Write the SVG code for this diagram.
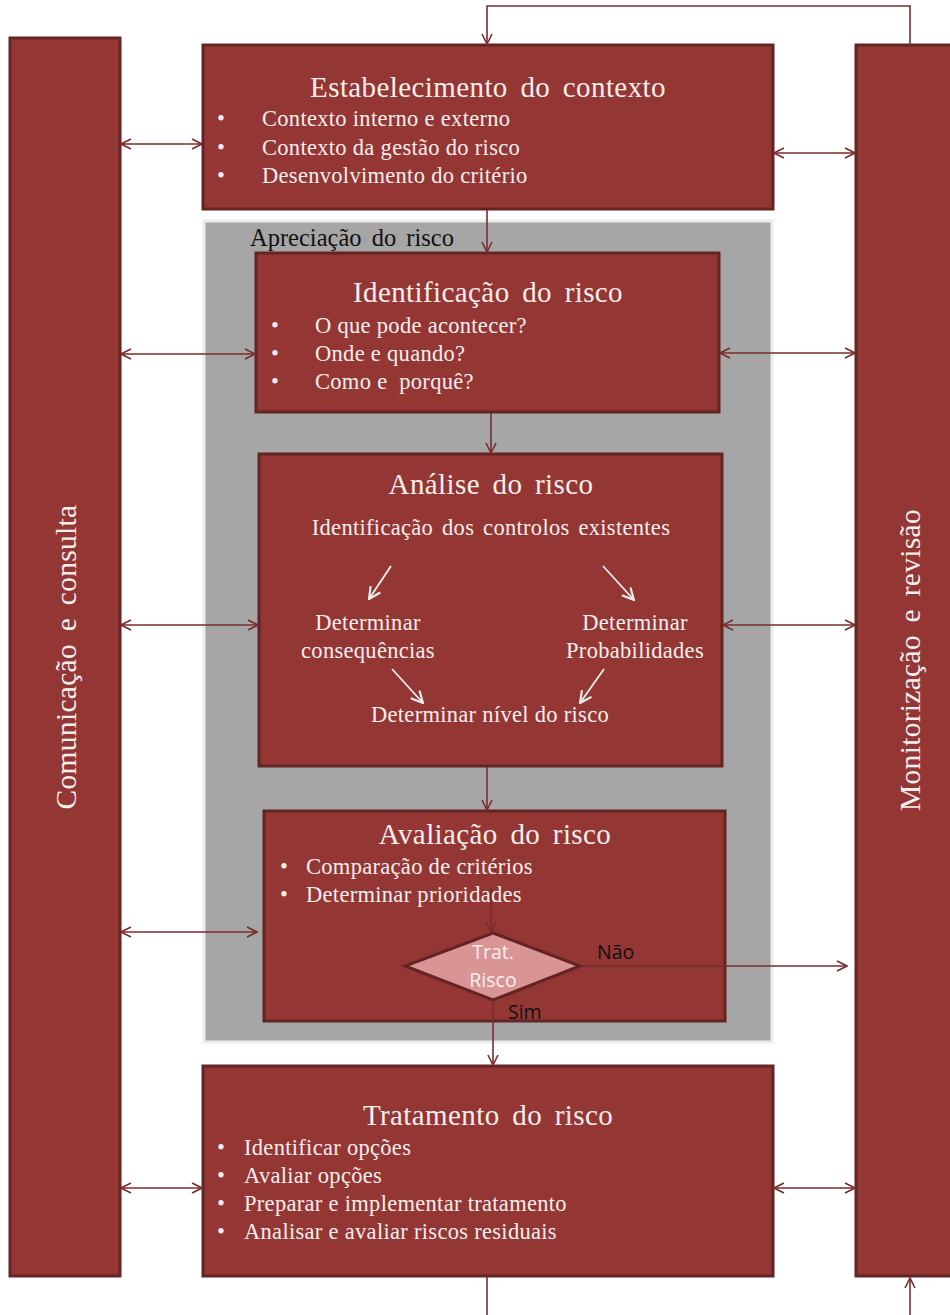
<svg xmlns="http://www.w3.org/2000/svg" width="950" height="1315" viewBox="0 0 950 1315">
  <defs>
    <style>
      .box { fill: #943634; stroke: #632423; stroke-width: 3; }
      .title { font-family: "Liberation Serif", serif; font-size: 29px; fill: #f4eeee; word-spacing: 5px; letter-spacing: 0.4px; }
      .item { font-family: "Liberation Serif", serif; font-size: 22.5px; fill: #f4eeee; letter-spacing: 0.3px; }
      .side { font-family: "Liberation Serif", serif; font-size: 29.5px; fill: #f4eeee; word-spacing: 5px; letter-spacing: 0.3px; }
      .label { font-family: "Liberation Serif", serif; font-size: 24.5px; fill: #111; word-spacing: 4px; }
      .sans { font-family: "Open Sans", "Liberation Sans", sans-serif; font-size: 19.5px; }
      .conn { fill: none; stroke: #7a2c2c; stroke-width: 1.6; }
      .inner { fill: none; stroke: #f4eeee; stroke-width: 1.8; }
    </style>
    <marker id="arr" viewBox="0 0 12 12" refX="11" refY="6" markerWidth="12" markerHeight="12" markerUnits="userSpaceOnUse" orient="auto-start-reverse">
      <path d="M1,1 L11,6 L1,11" fill="none" stroke="#7a2c2c" stroke-width="1.6"/>
    </marker>
    <marker id="warr" viewBox="0 0 12 12" refX="11" refY="6" markerWidth="14" markerHeight="14" markerUnits="userSpaceOnUse" orient="auto">
      <path d="M1,1 L11,6 L1,11" fill="none" stroke="#f4eeee" stroke-width="1.8"/>
    </marker>
  </defs>

  <rect width="950" height="1315" fill="#ffffff"/>

  <!-- risk assessment frame -->
  <g id="apreciacao">
    <rect x="204" y="221" width="568" height="821" fill="#a6a6a6" stroke="#ececec" stroke-width="3"/>
    <text class="label" x="250" y="246">Apreciação do risco</text>
  </g>

  <!-- side columns -->
  <g id="comunicacao">
    <rect class="box" x="10" y="38" width="110" height="1238"/>
    <text class="side" transform="translate(76,657) rotate(-90)" text-anchor="middle">Comunicação e consulta</text>
  </g>
  <g id="monitorizacao">
    <rect class="box" x="856" y="45" width="110" height="1231"/>
    <text class="side" transform="translate(920,660) rotate(-90)" text-anchor="middle">Monitorização e revisão</text>
  </g>

  <g id="contexto">
    <rect class="box" x="203" y="45" width="570" height="164"/>
    <text class="title" x="488" y="97" text-anchor="middle">Estabelecimento do contexto</text>
    <g class="item">
      <text x="217" y="126">•</text><text x="262" y="126">Contexto interno e externo</text>
      <text x="217" y="155">•</text><text x="262" y="155">Contexto da gestão do risco</text>
      <text x="217" y="183">•</text><text x="262" y="183">Desenvolvimento do critério</text>
    </g>
  </g>

  <g id="identificacao">
    <rect class="box" x="256" y="253" width="463" height="159"/>
    <text class="title" x="488" y="302" text-anchor="middle">Identificação do risco</text>
    <g class="item">
      <text x="271" y="333">•</text><text x="315" y="333">O que pode acontecer?</text>
      <text x="271" y="361">•</text><text x="315" y="361">Onde e quando?</text>
      <text x="271" y="389">•</text><text x="315" y="389">Como e&#160; porquê?</text>
    </g>
  </g>

  <g id="analise">
    <rect class="box" x="259" y="454" width="463" height="312"/>
    <text class="title" x="491" y="494" text-anchor="middle">Análise do risco</text>
    <g class="item" text-anchor="middle">
      <text x="491" y="535" word-spacing="3">Identificação dos controlos existentes</text>
      <text x="368" y="630">Determinar</text>
      <text x="368" y="658">consequências</text>
      <text x="635" y="630">Determinar</text>
      <text x="635" y="658">Probabilidades</text>
      <text x="490" y="722">Determinar nível do risco</text>
    </g>
    <line class="inner" x1="391" y1="566" x2="369" y2="599" marker-end="url(#warr)"/>
    <line class="inner" x1="603" y1="566" x2="634" y2="600" marker-end="url(#warr)"/>
    <line class="inner" x1="392" y1="669" x2="423" y2="703" marker-end="url(#warr)"/>
    <line class="inner" x1="604" y1="669" x2="580" y2="703" marker-end="url(#warr)"/>
  </g>

  <g id="avaliacao">
    <rect class="box" x="264" y="811" width="461" height="210"/>
    <text class="title" x="495" y="844" text-anchor="middle">Avaliação do risco</text>
    <g class="item">
      <text x="280" y="874">•</text><text x="306" y="874">Comparação de critérios</text>
      <text x="280" y="902">•</text><text x="306" y="902">Determinar prioridades</text>
    </g>
  </g>

  <g id="tratamento">
    <rect class="box" x="203" y="1066" width="570" height="210"/>
    <text class="title" x="488" y="1125" text-anchor="middle">Tratamento do risco</text>
    <g class="item">
      <text x="217" y="1155">•</text><text x="244" y="1155">Identificar opções</text>
      <text x="217" y="1183">•</text><text x="244" y="1183">Avaliar opções</text>
      <text x="217" y="1211">•</text><text x="244" y="1211">Preparar e implementar tratamento</text>
      <text x="217" y="1239">•</text><text x="244" y="1239">Analisar e avaliar riscos residuais</text>
    </g>
  </g>

  <g id="connectors">
    <!-- feedback loop over the top -->
    <polyline class="conn" points="910,45 910,6 487,6 487,44" marker-end="url(#arr)"/>
    <!-- communication links -->
    <line class="conn" x1="121" y1="144" x2="202" y2="144" marker-start="url(#arr)" marker-end="url(#arr)"/>
    <line class="conn" x1="121" y1="354" x2="255" y2="354" marker-start="url(#arr)" marker-end="url(#arr)"/>
    <line class="conn" x1="121" y1="625" x2="258" y2="625" marker-start="url(#arr)" marker-end="url(#arr)"/>
    <line class="conn" x1="121" y1="932" x2="257" y2="932" marker-start="url(#arr)" marker-end="url(#arr)"/>
    <line class="conn" x1="121" y1="1188" x2="202" y2="1188" marker-start="url(#arr)" marker-end="url(#arr)"/>
    <!-- monitoring links -->
    <line class="conn" x1="774" y1="153" x2="855" y2="153" marker-start="url(#arr)" marker-end="url(#arr)"/>
    <line class="conn" x1="720" y1="353" x2="855" y2="353" marker-start="url(#arr)" marker-end="url(#arr)"/>
    <line class="conn" x1="723" y1="625" x2="855" y2="625" marker-start="url(#arr)" marker-end="url(#arr)"/>
    <line class="conn" x1="774" y1="1188" x2="855" y2="1188" marker-start="url(#arr)" marker-end="url(#arr)"/>
    <!-- main flow -->
    <line class="conn" x1="487" y1="210" x2="487" y2="252" marker-end="url(#arr)"/>
    <line class="conn" x1="491" y1="413" x2="491" y2="453" marker-end="url(#arr)"/>
    <line class="conn" x1="487" y1="767" x2="487" y2="810" marker-end="url(#arr)"/>
    <line class="conn" x1="491" y1="888" x2="491" y2="932" marker-end="url(#arr)"/>
    <line class="conn" x1="493" y1="1000" x2="493" y2="1065" marker-end="url(#arr)"/>
    <line class="conn" x1="580" y1="966" x2="847" y2="966" marker-end="url(#arr)"/>
    <!-- continuation below -->
    <line class="conn" x1="487" y1="1277" x2="487" y2="1315"/>
    <line class="conn" x1="910" y1="1315" x2="910" y2="1278" marker-end="url(#arr)"/>
  </g>

  <g id="decisao">
    <polygon points="493,933 580,966 493,1000 405,966" fill="#d99594" stroke="#632423" stroke-width="3"/>
    <g class="sans" fill="#f8f0f0" text-anchor="middle">
      <text x="493" y="959">Trat.</text>
      <text x="493" y="987">Risco</text>
    </g>
    <text class="sans" x="597" y="959" fill="#111">Não</text>
    <text class="sans" x="508" y="1019" fill="#111">Sim</text>
  </g>
</svg>
